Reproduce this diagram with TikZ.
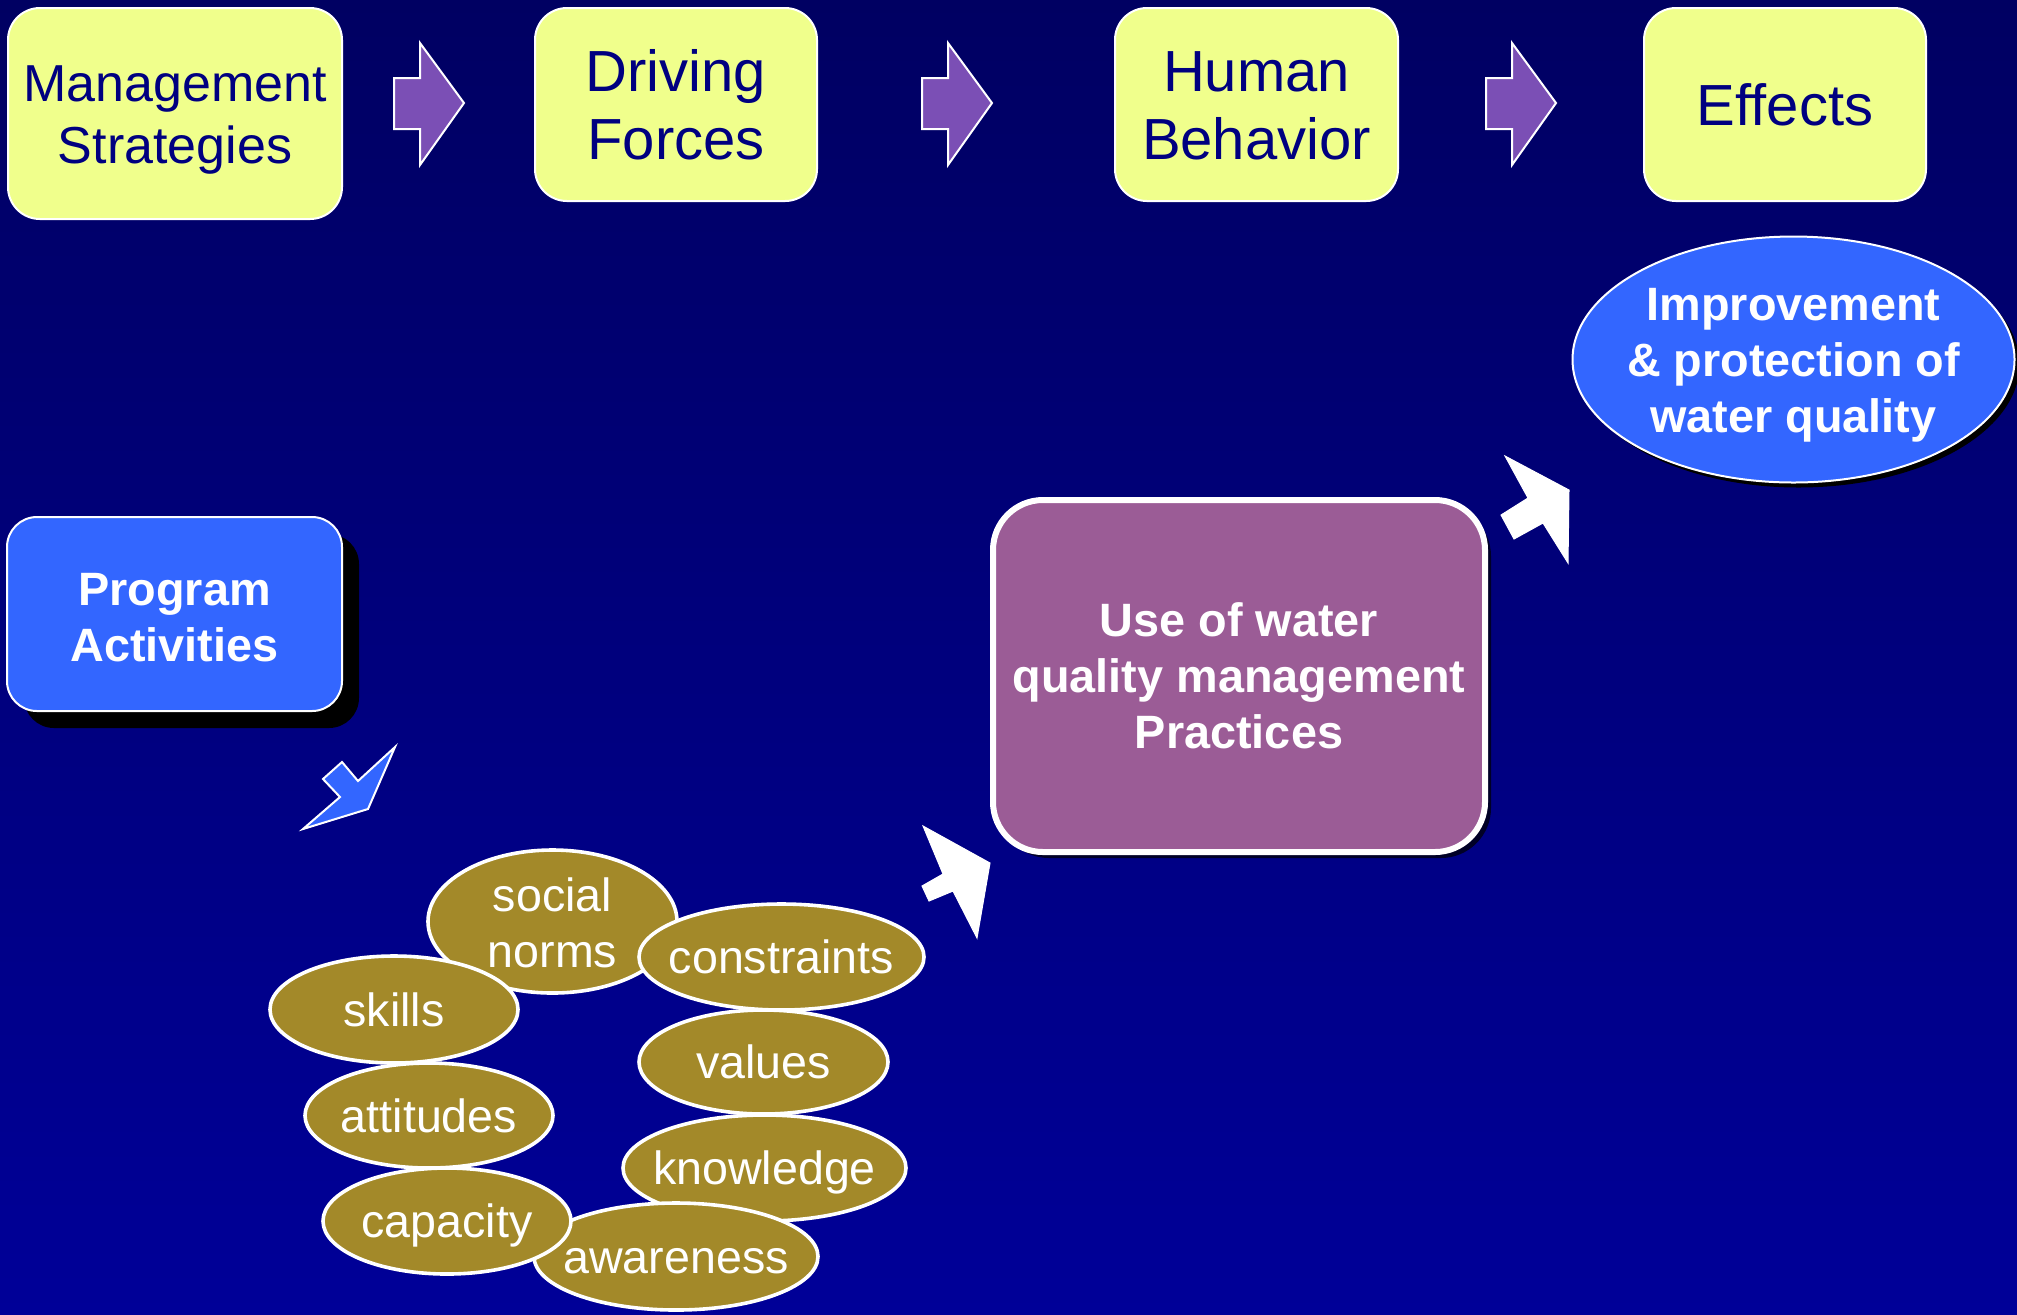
\documentclass[tikz,border=0pt]{standalone}
\usepackage{fontspec}
\setmainfont{Liberation Sans}
\usetikzlibrary{shapes.geometric,shadows}
\definecolor{bgtop}{RGB}{0,0,98}
\definecolor{bgbot}{RGB}{0,0,152}
\definecolor{ylw}{RGB}{240,255,140}
\definecolor{navytxt}{RGB}{0,0,128}
\definecolor{arrowpurple}{RGB}{123,79,181}
\definecolor{brightblue}{RGB}{51,102,255}
\definecolor{mauve}{RGB}{155,92,150}
\definecolor{goldfill}{RGB}{163,137,41}
\begin{document}
\begin{tikzpicture}[x=0.5pt,y=-0.5pt,
  ybox/.style={draw=white, line width=1pt, fill=ylw, rounded corners=16pt,
    inner sep=0pt, align=center, text=navytxt},
  bigtxt/.style={font=\fontsize{29}{34}\selectfont, text height=54.9pt, text depth=0pt},
  boldtxt/.style={text=white, align=center, inner sep=0pt,
    font=\bfseries\fontsize{23.4}{28}\selectfont, text height=16.8pt, text depth=0pt},
  goldell/.style={ellipse, draw=white, line width=1.8pt, fill=goldfill, inner sep=0pt},
  goldtxt/.style={text=white, align=center, inner sep=0pt,
    font=\fontsize{23.3}{28}\selectfont, text height=16.7pt, text depth=0pt},
  blockarrow/.style={fill=arrowpurple, draw=white, line width=1pt, line join=miter},
  bluearrow/.style={fill=brightblue, draw=white, line width=1pt, line join=miter},
  whitearrow/.style={fill=white, draw=white, line width=0.5pt, line join=miter}]
\useasboundingbox (0,0) rectangle (2017,1314);
\shade[top color=bgtop, bottom color=bgbot] (0,0) rectangle (2017,1314);

% top row
\node[ybox, minimum width=167pt, minimum height=105.5pt,
  font=\fontsize{26}{31}\selectfont, text height=49.7pt, text depth=0pt]
  (ms) at (175,113.5) {Management\\Strategies};
\node[ybox, bigtxt, minimum width=141pt, minimum height=96.5pt] (df) at (676,104.5) {Driving\\Forces};
\node[ybox, bigtxt, minimum width=141.5pt, minimum height=96.5pt] (hb) at (1256.5,104.5) {Human\\Behavior};
\node[ybox, bigtxt, text height=20.9pt, minimum width=141pt, minimum height=96.5pt] (ef) at (1785,104.5) {Effects};

\foreach \dx in {0,528,1092}
  \draw[blockarrow, shift={(\dx,0)}] (394,78) -- (420,78) -- (420,43) -- (464,103)
     -- (420,165) -- (420,129) -- (394,129) -- cycle;

% program activities
\node[draw=white, line width=1pt, fill=brightblue, rounded corners=15pt,
  minimum width=167.5pt, minimum height=97pt, inner sep=0pt,
  general shadow={fill=black, draw=none, shadow xshift=8.5pt, shadow yshift=-8.5pt}]
  (pa) at (174.5,614) {};
\node[boldtxt, text height=44.8pt] (pat) at (174.5,617) {Program\\Activities};

\draw[bluearrow] (303,829) -- (340,797) -- (323,779) -- (342,762) -- (358,781)
   -- (395,747) -- (368,809) -- cycle;

% factor ellipses
\node[goldell, minimum width=124.5pt, minimum height=71.5pt] (soc) at (552.5,921.5) {};
\node[goldtxt, text height=44.7pt] (soct) at (552.5,923) {social\\norms};
\node[goldell, minimum width=142.5pt, minimum height=53pt] (con) at (781.5,957) {};
\node[goldtxt] (cont) at (con) {constraints};
\node[goldell, minimum width=124pt, minimum height=53.5pt] (ski) at (394,1009.5) {};
\node[goldtxt] (skit) at (ski) {skills};
\node[goldell, minimum width=124.5pt, minimum height=52pt] (val) at (763.5,1062) {};
\node[goldtxt] (valt) at (val) {values};
\node[goldell, minimum width=124pt, minimum height=52.5pt] (att) at (429,1115.5) {};
\node[goldtxt] (attt) at (att) {attitudes};
\node[goldell, minimum width=141.5pt, minimum height=53pt] (kno) at (764.5,1168) {};
\node[goldtxt] (knot) at (kno) {knowledge};
\node[goldell, minimum width=142pt, minimum height=53.5pt] (awa) at (676,1256.5) {};
\node[goldtxt] (awat) at (awa) {awareness};
\node[goldell, minimum width=124pt, minimum height=53pt] (cap) at (447,1221) {};
\node[goldtxt] (capt) at (cap) {capacity};

\draw[whitearrow] (923,826) -- (990,863) -- (977,938) -- (953,891) -- (929,901)
   -- (922,886) -- (943,874) -- cycle;

% practices box
\node[draw=white, line width=3pt, fill=mauve, rounded corners=25pt,
  minimum width=246pt, minimum height=176pt, inner sep=0pt,
  general shadow={fill=black!85!blue, draw=none, shadow xshift=3pt, shadow yshift=-3pt}]
  (use) at (1239,676) {};
\node[boldtxt, text height=72.8pt] (uset) at (use) {Use of water\\quality management\\Practices};

\draw[whitearrow] (1505,456) -- (1569,490) -- (1568,563) -- (1543,523) -- (1514,539)
   -- (1501,515) -- (1528,498) -- cycle;

% effect ellipse
\node[ellipse, draw=white, line width=1pt, fill=brightblue, inner sep=0pt,
  minimum width=221pt, minimum height=123pt,
  general shadow={fill=black, draw=none, shadow xshift=2.5pt, shadow yshift=-2.5pt}]
  (imp) at (1793.5,359.5) {};
\node[boldtxt, text height=72.8pt] (impt) at (imp) {Improvement\\\& protection of\\water quality};
\end{tikzpicture}
\end{document}
